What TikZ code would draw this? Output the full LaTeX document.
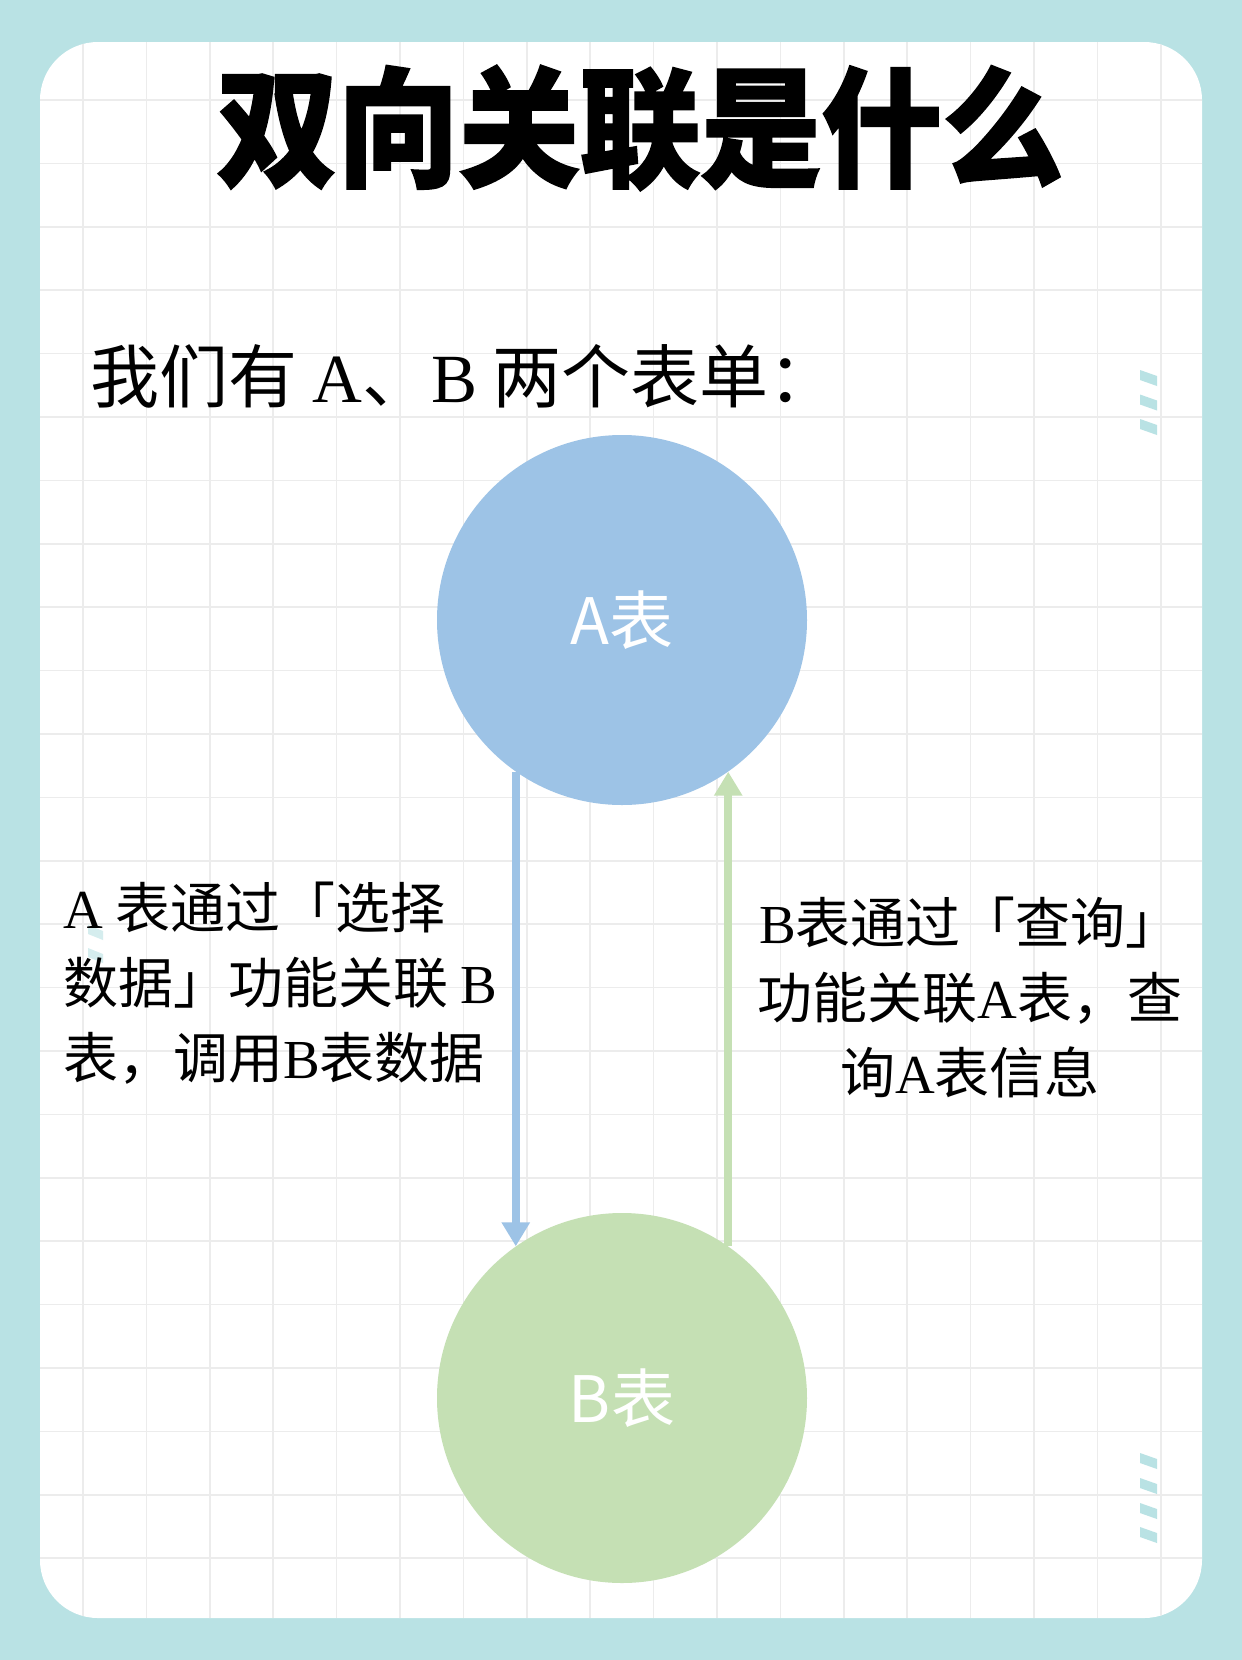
\documentclass[tikz,border=0pt]{standalone}
\usepackage{fontspec}
\setmainfont{Liberation Serif}
\newfontfamily\cjk{Noto Sans CJK SC}
\newfontfamily\titlefont{Noto Sans CJK SC}[BoldFeatures={FakeStretch=0.93,FakeBold=1.5}]
\usetikzlibrary{arrows.meta}
\definecolor{185_226_228}{RGB}{185, 226, 228}
\definecolor{236_236_236}{RGB}{236, 236, 236}
\definecolor{157_195_230}{RGB}{157, 195, 230}
\definecolor{197_224_180}{RGB}{197, 224, 180}
\definecolor{black}{RGB}{0, 0, 0}
\definecolor{white}{RGB}{255, 255, 255}
\newcommand\lat[1]{{\rmfamily #1}}

\begin{document}
\begin{tikzpicture}[
        x=1pt, y=-1pt,
        grid line/.style={draw=236_236_236, line width=1.5pt},
        dash mark/.style={fill=185_226_228},
        table node/.style={
            circle,
            minimum size=370pt,
            inner sep=0pt,
            text=white,
            font=\cjk\fontsize{64}{70}\selectfont
        },
        note/.style={
            inner sep=0pt,
            text=black,
            font=\cjk\fontsize{55}{75}\selectfont
        },
        link/.style={
            line width=8pt,
            -{Triangle[width=27pt,length=24pt]}
        }
    ]

    \fill[185_226_228] (0,0) rectangle (1242,1660);
    \fill[white, rounded corners=58pt] (40,42) rectangle (1202,1618);
    \begin{scope}
        \clip[rounded corners=58pt] (40,42) rectangle (1202,1618);
        \foreach \i in {0,...,17}
            \draw[grid line] (83+63.4*\i,42) -- (83+63.4*\i,1618);
        \foreach \j in {0,...,23}
            \draw[grid line] (40,100+63.4*\j) -- (1202,100+63.4*\j);
    \end{scope}

    \foreach \y in {370,394.5,419,1453,1478,1503,1527}
        \fill[dash mark] (1140,\y) -- ++(17,6) -- ++(0,10) -- ++(-17,-6) -- cycle;
    \foreach \y in {925,948}
        \fill[dash mark, opacity=.6] (88,\y) -- ++(15,6) -- ++(0,9) -- ++(-15,-6) -- cycle;

    \node[font=\titlefont\bfseries\fontsize{130}{140}\selectfont] (title) at (640,128) {双向关联是什么};
    \node[note, anchor=west, font=\cjk\fontsize{69}{75}\selectfont] (intro) at (90,376)
        {我们有 \lat{A}、\lat{B} 两个表单：};

    \node[table node, fill=157_195_230] (A) at (622,620) {A表};
    \node[table node, fill=197_224_180] (B) at (622,1398) {B表};

    \draw[link, draw=157_195_230] (A.235) -- (B.125);
    \draw[link, draw=197_224_180] (B.55) -- (A.305);

    \node[note, anchor=west, align=left] (select note) at (63,983)
        {\lat{A} 表通过「选择\\数据」功能关联 \lat{B}\\表，调用\lat{B}表数据};
    \node[note, align=center] (query note) at (970,998)
        {\lat{B}表通过「查询」\\功能关联\lat{A}表，查\\询\lat{A}表信息};
\end{tikzpicture}
\end{document}
